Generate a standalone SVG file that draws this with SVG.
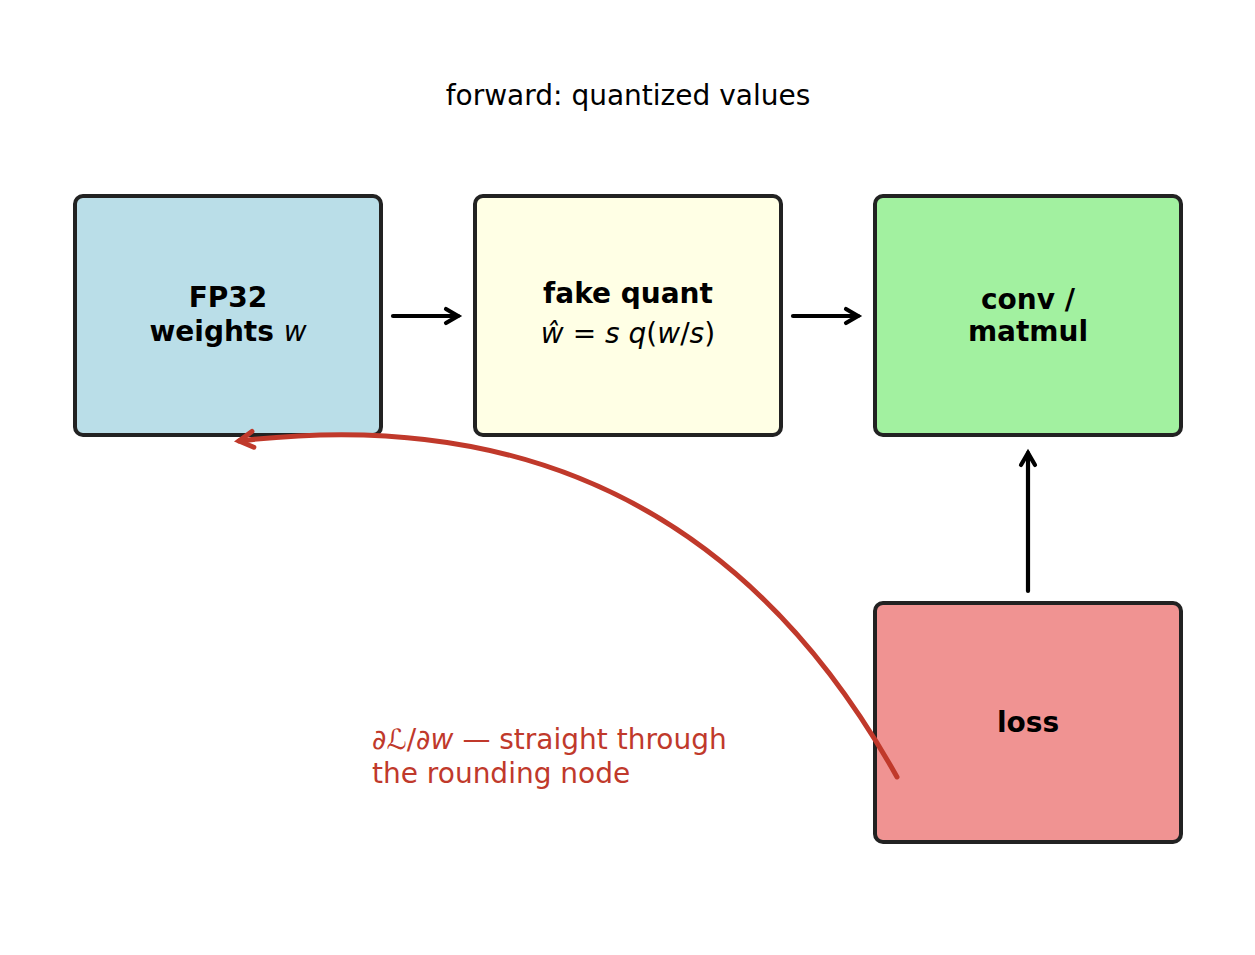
<svg xmlns="http://www.w3.org/2000/svg" width="1255" height="955" viewBox="0 0 1255 955">
<style>
.box{stroke:#222;stroke-width:4}
.lbl{font-family:"DejaVu Sans",sans-serif;font-size:28px;font-weight:bold;text-anchor:middle;fill:#000}
.math{font-family:"DejaVu Sans",sans-serif;font-size:28px;font-weight:normal;text-anchor:middle;fill:#000}
.it{font-style:italic;font-weight:normal}
.arr{fill:none;stroke:#000;stroke-width:4.2;stroke-linecap:round}
.title{font-family:"DejaVu Sans",sans-serif;font-size:28px;text-anchor:middle;fill:#000}
.red{font-family:"DejaVu Sans",sans-serif;font-size:28px;fill:#c0392b}
</style>
<defs>
<marker id="ah" viewBox="0 0 12 12" refX="10" refY="6" markerWidth="12" markerHeight="12" markerUnits="userSpaceOnUse" orient="auto" overflow="visible">
<path d="M-2,-1 L10,6 L-2,13" fill="none" stroke="#000" stroke-width="4.2" stroke-linecap="round" stroke-linejoin="miter"/>
</marker>
<marker id="ahr" viewBox="0 0 12 12" refX="10" refY="6" markerWidth="12" markerHeight="12" markerUnits="userSpaceOnUse" orient="auto" overflow="visible">
<path d="M-4,-2 L10,6 L-4,14" fill="none" stroke="#c0392b" stroke-width="5" stroke-linecap="round" stroke-linejoin="miter"/>
</marker>
</defs>
<rect width="1255" height="955" fill="#fff"/>
<text class="title" x="628" y="105">forward: quantized values</text>
<g id="fp32">
<rect class="box" x="75" y="196" width="306" height="239" rx="8" fill="#badee8"/>
<text class="lbl" x="228" y="307">FP32</text>
<text class="lbl" x="228" y="341">weights <tspan class="it">w</tspan></text>
</g>
<g id="fakequant">
<rect class="box" x="475" y="196" width="306" height="239" rx="8" fill="#ffffe5"/>
<text class="lbl" x="628" y="303">fake quant</text>
<text class="math" x="628" y="343"><tspan class="it">ŵ</tspan> = <tspan class="it">s</tspan> <tspan class="it">q</tspan>(<tspan class="it">w</tspan>/<tspan class="it">s</tspan>)</text>
</g>
<g id="conv">
<rect class="box" x="875" y="196" width="306" height="239" rx="8" fill="#a2f1a0"/>
<text class="lbl" x="1028" y="309">conv /</text>
<text class="lbl" x="1028" y="341">matmul</text>
</g>
<g id="loss">
<rect class="box" x="875" y="603" width="306" height="239" rx="8" fill="#f09392"/>
<text class="lbl" x="1028" y="732">loss</text>
</g>
<g id="connectors">
<path class="arr" d="M393,316 L458,316" marker-end="url(#ah)"/>
<path class="arr" d="M793,316 L858,316" marker-end="url(#ah)"/>
<path class="arr" d="M1028,591 L1028,453" marker-end="url(#ah)"/>
<path d="M897,777 Q680,388 239,441" fill="none" stroke="#c0392b" stroke-width="5" stroke-linecap="round" marker-end="url(#ahr)"/>
</g>
<text class="red" x="372" y="749"><tspan font-style="italic">∂ℒ</tspan>/<tspan font-style="italic">∂w</tspan> — straight through</text>
<text class="red" x="372" y="783">the rounding node</text>
</svg>
